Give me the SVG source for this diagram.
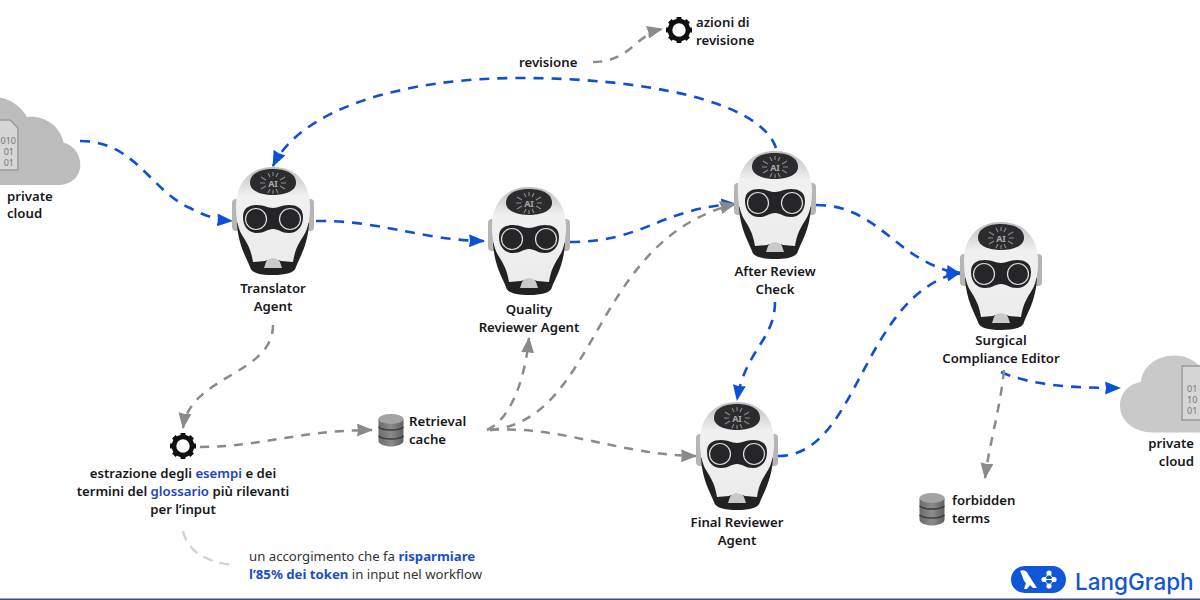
<svg xmlns="http://www.w3.org/2000/svg" xmlns:xlink="http://www.w3.org/1999/xlink" width="1200" height="600" viewBox="0 0 1200 600">
<style>
text{font-family:"Noto Sans","Open Sans",sans-serif;font-size:13.200px;font-weight:600;fill:#17171c}
.c{text-anchor:middle}
.b{fill:#1a45b8}
.bb{fill:#1a4fc8;font-weight:700}
.l{font-weight:400;fill:#333}
.d{font-size:9px;font-weight:400;fill:#777}
.blue{fill:none;stroke:#0b50d8;stroke-width:2.600;stroke-dasharray:10 8}
.gray{fill:none;stroke:#8a8a8a;stroke-width:2.500;stroke-dasharray:9 8}
.pale{fill:none;stroke:#d0d0d0;stroke-width:2.200;stroke-dasharray:10 7}
</style>
<defs>
<marker id="ab" viewBox="0 0 16 13" refX="15" refY="6.500" markerWidth="16" markerHeight="13" markerUnits="userSpaceOnUse" orient="auto"><path d="M0 0L16 6.500L0 13L1 6.500Z" fill="#0b50d8"/></marker>
<marker id="ag" viewBox="0 0 16 13" refX="15" refY="6.500" markerWidth="16" markerHeight="13" markerUnits="userSpaceOnUse" orient="auto"><path d="M0 0L16 6.500L0 13L1 6.500Z" fill="#8a8a8a"/></marker>
<linearGradient id="hd" x1="0" y1="0" x2="0" y2="1"><stop offset="0" stop-color="#bcbcbc"/><stop offset=".3" stop-color="#f0f0f0"/><stop offset="1" stop-color="#ececec"/></linearGradient>
<linearGradient id="db" x1="0" y1="0" x2="1" y2="0"><stop offset="0" stop-color="#6a6a6a"/><stop offset=".5" stop-color="#8c8c8c"/><stop offset="1" stop-color="#5f5f5f"/></linearGradient>
<g id="robot">
<rect x="-41" y="32" width="9" height="32" rx="4" fill="#b5b5b5"/>
<rect x="32" y="32" width="9" height="32" rx="4" fill="#b5b5b5"/>
<path d="M-36 56C-35 78-26 92-23 100C-22 106-12 108 0 108C12 108 22 106 23 100C26 92 35 78 36 56Z" fill="#222"/>
<path d="M0 0C24 0 38 17 37 42C37 50 35 62 31 68C26 76 22 82 20 95L8 94C4 92-4 92-8 94L-20 95C-22 82-26 76-31 68C-35 62-37 50-37 42C-38 17-24 0 0 0Z" fill="url(#hd)"/>
<path d="M-23 16C-23 6-12 2 0 2C12 2 23 6 23 16C23 24 12 28 0 28C-12 28-23 24-23 16Z" fill="#2c2c2e"/>
<path d="M-30 50C-30 41-24 38-16 38C-8 38-6 41 0 41C6 41 8 38 16 38C24 38 30 41 30 50C30 60 24 66 16 66C8 66 6 62 0 62C-6 62-8 66-16 66C-24 66-30 60-30 50Z" fill="#242426"/>
<circle cx="-17" cy="52" r="10.500" fill="#262628" stroke="#dedede" stroke-width="1.200"/>
<circle cx="17" cy="52" r="10.500" fill="#262628" stroke="#dedede" stroke-width="1.200"/>
<path d="M-7 95C-5 90 5 90 7 95L9 101L-9 101Z" fill="#c9c9c9"/>
<path d="M-12 10L-7 13M12 10L7 13M-13 16H-8M13 16H8M-12 22L-7 19M12 22L7 19M-5 6L-3 10M5 6L3 10M-5 26L-3 22M5 26L3 22M0 5V9M0 23V27" stroke="#8d8d8d" stroke-width="1.100" fill="none"/>
<text x="0" y="19.500" text-anchor="middle" style="font-size:9px;font-weight:700;fill:#a8a8a8">AI</text>
</g>
<g id="gear">
<circle r="9" fill="none" stroke="#111" stroke-width="4.600"/>
<path d="M-2.500-13H2.500V-9H-2.500ZM-2.500 9H2.500V13H-2.500ZM-13-2.500V2.500H-9V-2.500ZM9-2.500V2.500H13V-2.500Z" fill="#111"/>
<path d="M-2.500-13H2.500V-9H-2.500ZM-2.500 9H2.500V13H-2.500ZM-13-2.500V2.500H-9V-2.500ZM9-2.500V2.500H13V-2.500Z" fill="#111" transform="rotate(45)"/>
</g>
<g id="dbi">
<path d="M-12.500-11V11C-12.500 14 -6 16.500 0 16.500C6 16.500 12.500 14 12.500 11V-11Z" fill="url(#db)"/>
<ellipse cy="-11" rx="12.500" ry="5" fill="#a3a3a3"/>
<path d="M-12.500-3C-8 1 8 1 12.500-3M-12.500 6C-8 10 8 10 12.500 6" fill="none" stroke="#3b3b3b" stroke-width="1.500"/>
</g>
<path id="cloud" d="M-39 88C-62 88-80 74-80 55C-80 38-68 27-54 25C-52 6-34-8-12-8C4-8 18 0 26 14C46 12 62 24 66 42C76 44 84 54 84 66C84 79 74 88 60 88Z"/>
</defs>
<rect width="1200" height="600" fill="#fff"/>
<g id="connectors">
<path class="blue" marker-end="url(#ab)" d="M80 141C135 141 150 190 190 208C205 216 218 220 232 221"/>
<path class="blue" marker-end="url(#ab)" d="M316 221C380 220 420 240 484 241"/>
<path class="blue" marker-end="url(#ab)" d="M570 242C645 242 660 208 736 204"/>
<path class="blue" marker-end="url(#ab)" d="M816 205C880 205 895 262 961 274"/>
<path class="blue" marker-end="url(#ab)" d="M776 148C760 100 640 78 520 78C400 78 300 110 273 166"/>
<path class="blue" marker-end="url(#ab)" d="M775 302C775 340 745 350 737 400"/>
<path class="blue" marker-end="url(#ab)" d="M778 456C860 456 860 295 961 272"/>
<path class="blue" marker-end="url(#ab)" d="M1001 372C1030 385 1070 388 1120 388"/>
<path class="gray" marker-end="url(#ag)" d="M273 325C273 375 190 375 183 428"/>
<path class="gray" marker-end="url(#ag)" d="M200 447C260 447 300 430 372 430"/>
<path class="gray" marker-end="url(#ag)" d="M487 430C510 420 525 380 529 338"/>
<path class="gray" marker-end="url(#ag)" d="M490 430C600 420 590 240 735 204"/>
<path class="gray" marker-end="url(#ag)" d="M490 430C560 425 620 455 696 456"/>
<path class="gray" marker-end="url(#ag)" d="M593 62C630 62 635 35 662 29"/>
<path class="gray" marker-end="url(#ag)" d="M1004 370C1000 410 990 440 985 478"/>
<path class="pale" d="M183 531C187 550 205 562 232 565"/>
</g>
<g id="cloud-in">
<use xlink:href="#cloud" href="#cloud" fill="#bcbcbc" transform="translate(3,104) scale(.92)"/>
<path d="M-4 120H10L18 128V170H-4Z" fill="#d6d6d6" stroke="#9a9a9a" stroke-width="1.500"/>
<text class="d" x="16" y="144" text-anchor="end">010</text>
<text class="d" x="14" y="155" text-anchor="end">01</text>
<text class="d" x="14" y="166" text-anchor="end">01</text>
<text x="7" y="201">private</text><text x="7" y="218">cloud</text>
</g>
<g id="translator"><use xlink:href="#robot" href="#robot" transform="translate(273,167)"/><text class="c" x="273" y="293">Translator</text><text class="c" x="273" y="311">Agent</text></g>
<g id="quality"><use xlink:href="#robot" href="#robot" transform="translate(529,187)"/><text class="c" x="529" y="314">Quality</text><text class="c" x="529" y="332">Reviewer Agent</text></g>
<g id="after"><use xlink:href="#robot" href="#robot" transform="translate(775,151)"/><text class="c" x="775" y="276">After Review</text><text class="c" x="775" y="294">Check</text></g>
<g id="final"><use xlink:href="#robot" href="#robot" transform="translate(737,402)"/><text class="c" x="737" y="527">Final Reviewer</text><text class="c" x="737" y="545">Agent</text></g>
<g id="surgical"><use xlink:href="#robot" href="#robot" transform="translate(1001,222)"/><text class="c" x="1001" y="345">Surgical</text><text class="c" x="1001" y="363">Compliance Editor</text></g>
<g id="azioni"><use xlink:href="#gear" href="#gear" transform="translate(679,30)"/><text x="696" y="27">azioni di</text><text x="696" y="45">revisione</text></g>
<g id="revisione"><text x="519" y="67">revisione</text></g>
<g id="estrazione"><use xlink:href="#gear" href="#gear" transform="translate(183,446)"/>
<text class="c" x="183" y="478">estrazione degli <tspan class="b">esempi</tspan> e dei</text>
<text class="c" x="183" y="496">termini del <tspan class="b">glossario</tspan> più rilevanti</text>
<text class="c" x="183" y="514">per l’input</text></g>
<g id="retrieval"><use xlink:href="#dbi" href="#dbi" transform="translate(391,430)"/><text x="409" y="426">Retrieval</text><text x="409" y="444">cache</text></g>
<g id="forbidden"><use xlink:href="#dbi" href="#dbi" transform="translate(932,509)"/><text x="952" y="505">forbidden</text><text x="952" y="523">terms</text></g>
<g id="note"><text class="l" x="249" y="561">un accorgimento che fa <tspan class="bb">risparmiare</tspan></text><text class="l" x="249" y="579"><tspan class="bb">l’85% dei token</tspan> in input nel workflow</text></g>
<g id="cloud-out">
<use xlink:href="#cloud" href="#cloud" fill="#c9c9c9" transform="translate(1184,362) scale(.8)"/>
<path d="M1182 366H1204V420H1182Z" fill="#d6d6d6" stroke="#9a9a9a" stroke-width="1.500"/>
<text class="d" x="1187" y="392">01</text>
<text class="d" x="1187" y="403">10</text>
<text class="d" x="1187" y="414">01</text>
<text x="1194" y="448" text-anchor="end">private</text><text x="1194" y="466" text-anchor="end">cloud</text>
</g>
<g id="langgraph">
<rect x="1011" y="566" width="55" height="27" rx="13.500" fill="#0f56d9"/>
<path d="M1020 571C1023 569 1027 571 1028 574L1037 588H1033L1030 585L1027 589H1024L1026 583C1023 581 1023 576 1020 571Z" fill="#fff"/>
<path d="M1049 573L1044 579.500L1049 586L1054 579.500ZM1044 579.500H1054" fill="none" stroke="#fff" stroke-width="1"/>
<g fill="#fff"><circle cx="1049" cy="573" r="2.600"/><circle cx="1049" cy="586" r="2.600"/><circle cx="1044" cy="579.500" r="2.600"/><circle cx="1054" cy="579.500" r="2.600"/></g>
<text x="1075" y="590" style="font-family:Inter,'Liberation Sans',sans-serif;font-size:22.500px;font-weight:500;fill:#1155d4">LangGraph</text>
</g>
<rect x="0" y="598.500" width="1200" height="1.500" fill="#3d4a8a"/>
</svg>
